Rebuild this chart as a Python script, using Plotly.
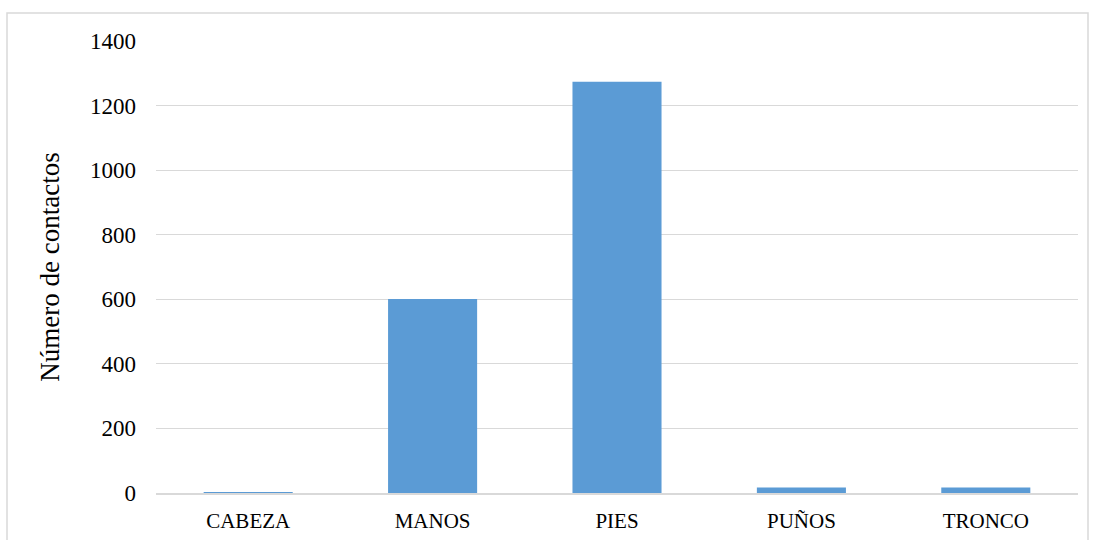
import plotly.graph_objects as go

categories = ["CABEZA", "MANOS", "PIES", "PUÑOS", "TRONCO"]
values = [3, 601, 1274, 17, 17]
y_ticks = [0, 200, 400, 600, 800, 1000, 1200, 1400]

W, H = 1094, 540
L, R, T, B = 156, 16, 41, 47

fig = go.Figure(go.Bar(x=categories, y=values, marker_color="#5b9bd5",
                       marker_line_width=0))

pw = W - L - R
ph = H - T - B
def px_to_paper_x(px):
    return (px - L) / pw
def px_to_paper_y(py):
    return (H - B - py) / ph

SERIF = "Liberation Serif"

fig.update_layout(
    width=W, height=H,
    margin=dict(l=L, r=R, t=T, b=B),
    paper_bgcolor="white", plot_bgcolor="white",
    bargap=0.517,
    showlegend=False,
    font=dict(family=SERIF, color="#000000", size=20),
    xaxis=dict(showgrid=False, showline=True, linecolor="#d9d9d9", linewidth=1.5,
               ticks="", tickfont=dict(family=SERIF, size=21), ticklabelstandoff=8,
               automargin=False),
    yaxis=dict(range=[0, 1400], tickvals=y_ticks, showgrid=True, gridcolor="#d9d9d9",
               gridwidth=1, zeroline=False, showline=False, ticks="",
               tickfont=dict(family=SERIF, size=23), ticklabelstandoff=19,
               automargin=False,
               title=dict(text="Número de contactos", font=dict(family=SERIF, size=27),
                          standoff=22)),
    shapes=[dict(type="rect", xref="paper", yref="paper",
                 x0=px_to_paper_x(7), x1=px_to_paper_x(1088),
                 y0=px_to_paper_y(560), y1=px_to_paper_y(13),
                 line=dict(color="#d9d9d9", width=1.5), fillcolor="rgba(0,0,0,0)",
                 layer="below")],
)

fig.write_html("out.html", config={"displayModeBar": False},
               post_script="document.body.style.margin='0';")
